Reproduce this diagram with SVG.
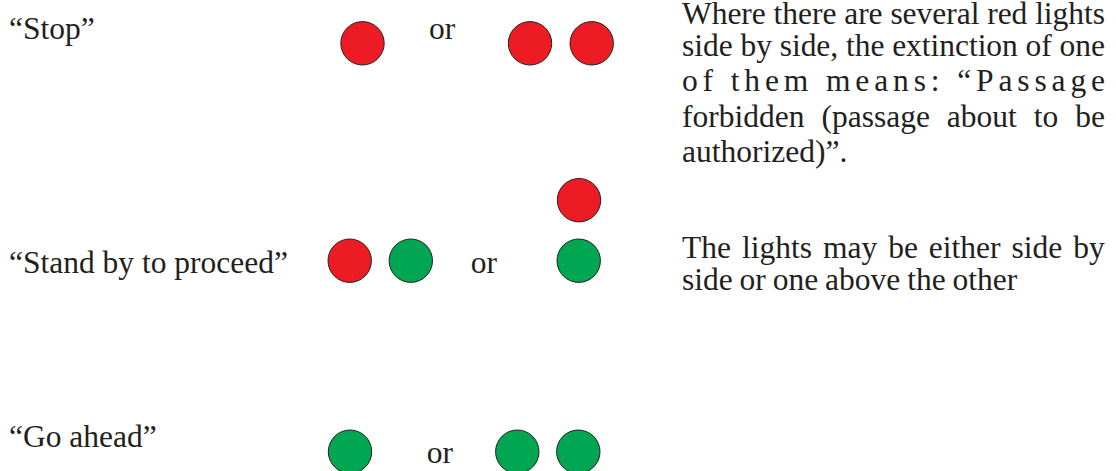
<svg xmlns="http://www.w3.org/2000/svg" width="1116" height="471" viewBox="0 0 1116 471">
<style>
text{font-family:"Liberation Serif","Times New Roman",serif;font-size:31.5px;fill:#231f20}
.red{fill:#ed1c24;stroke:#231f20;stroke-width:1}
.green{fill:#00a651;stroke:#231f20;stroke-width:1}
</style>
<rect width="1116" height="471" fill="#fff"/>
<g id="stop">
<text x="9" y="39">“Stop”</text>
<circle class="red" cx="362.5" cy="43.3" r="21.7"/>
<text x="429" y="39">or</text>
<circle class="red" cx="530" cy="43.3" r="21.7"/>
<circle class="red" cx="591.7" cy="43.3" r="21.7"/>
</g>
<g id="standby">
<text x="9" y="273">“Stand by to proceed”</text>
<circle class="red" cx="349.7" cy="260.7" r="21.7"/>
<circle class="green" cx="410.8" cy="260.7" r="21.7"/>
<text x="470.7" y="273">or</text>
<circle class="red" cx="579" cy="200.2" r="21.7"/>
<circle class="green" cx="578.7" cy="260.7" r="21.7"/>
</g>
<g id="goahead">
<text x="9" y="446.7">“Go ahead”</text>
<circle class="green" cx="350" cy="451.7" r="21.7"/>
<text x="426.7" y="463.3">or</text>
<circle class="green" cx="517.3" cy="451.7" r="21.7"/>
<circle class="green" cx="578.3" cy="451.7" r="21.7"/>
</g>
<g id="note1">
<text x="682" y="23.5" textLength="423" lengthAdjust="spacing">Where there are several red lights</text>
<text x="682" y="56" textLength="423" lengthAdjust="spacing">side by side, the extinction of one</text>
<text x="682" y="90.5" textLength="423" lengthAdjust="spacing">of them means: “Passage</text>
<text x="682" y="126.5" word-spacing="9.1">forbidden (passage about to be</text>
<text x="682" y="161.5">authorized)”.</text>
</g>
<g id="note2">
<text x="682" y="258" word-spacing="3.1">The lights may be either side by</text>
<text x="682" y="290" word-spacing="-1">side or one above the other</text>
</g>
</svg>
